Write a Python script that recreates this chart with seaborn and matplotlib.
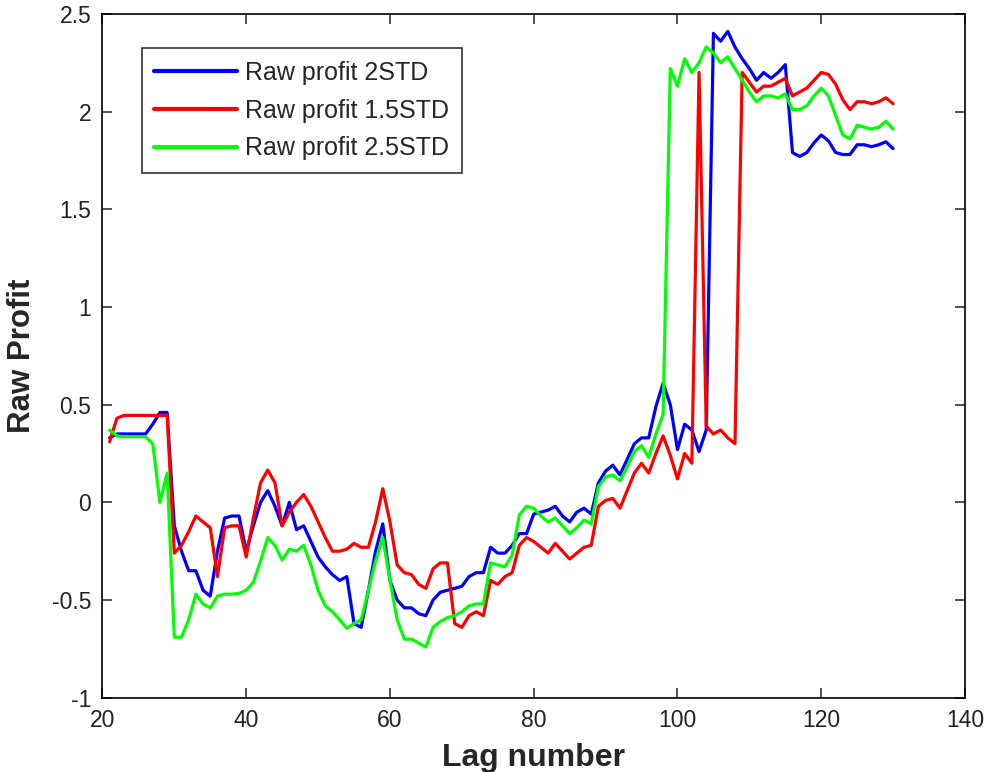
import matplotlib
matplotlib.use("Agg")
import matplotlib.pyplot as plt
import numpy as np
import pandas as pd
import seaborn as sns

# Lag values and profit series for three band widths
lags = list(range(21, 131))

profit_2std = [
    0.33, 0.35, 0.35, 0.35, 0.35, 0.35, 0.40, 0.46, 0.46, -0.12,   # 21-30
    -0.25, -0.35, -0.35, -0.45, -0.48, -0.25, -0.08, -0.07, -0.07, -0.25,  # 31-40
    -0.12, 0.00, 0.06, -0.02, -0.12, 0.00, -0.14, -0.12, -0.20, -0.28,  # 41-50
    -0.33, -0.37, -0.40, -0.38, -0.62, -0.64, -0.45, -0.25, -0.11, -0.40,  # 51-60
    -0.50, -0.54, -0.54, -0.57, -0.58, -0.50, -0.46, -0.45, -0.44, -0.43,  # 61-70
    -0.38, -0.36, -0.36, -0.23, -0.26, -0.26, -0.22, -0.16, -0.16, -0.06,  # 71-80
    -0.05, -0.04, -0.02, -0.07, -0.10, -0.05, -0.03, -0.06, 0.10, 0.16,  # 81-90
    0.19, 0.14, 0.22, 0.30, 0.33, 0.33, 0.49, 0.61, 0.50, 0.27,  # 91-100
    0.40, 0.37, 0.26, 0.37, 2.40, 2.36, 2.41, 2.33, 2.27, 2.22,  # 101-110
    2.16, 2.20, 2.17, 2.20, 2.24, 1.79, 1.77, 1.79, 1.84, 1.88,  # 111-120
    1.85, 1.79, 1.78, 1.78, 1.83, 1.83, 1.82, 1.83, 1.845, 1.81,  # 121-130
]

profit_15std = [
    0.31, 0.43, 0.445, 0.445, 0.445, 0.445, 0.445, 0.445, 0.445, -0.26,  # 21-30
    -0.22, -0.15, -0.07, -0.10, -0.13, -0.38, -0.13, -0.12, -0.12, -0.28,  # 31-40
    -0.08, 0.10, 0.165, 0.10, -0.12, -0.05, 0.00, 0.04, -0.02, -0.10,  # 41-50
    -0.18, -0.25, -0.25, -0.24, -0.21, -0.23, -0.23, -0.10, 0.07, -0.10,  # 51-60
    -0.32, -0.36, -0.37, -0.42, -0.44, -0.34, -0.31, -0.31, -0.62, -0.64,  # 61-70
    -0.58, -0.56, -0.58, -0.40, -0.42, -0.38, -0.36, -0.22, -0.18, -0.20,  # 71-80
    -0.23, -0.26, -0.21, -0.25, -0.29, -0.26, -0.23, -0.22, -0.02, 0.01,  # 81-90
    0.02, -0.03, 0.06, 0.15, 0.20, 0.15, 0.25, 0.34, 0.24, 0.12,  # 91-100
    0.25, 0.20, 2.20, 0.39, 0.35, 0.37, 0.33, 0.30, 2.20, 2.15,  # 101-110
    2.10, 2.13, 2.13, 2.15, 2.17, 2.08, 2.10, 2.12, 2.16, 2.20,  # 111-120
    2.19, 2.14, 2.06, 2.01, 2.05, 2.05, 2.04, 2.05, 2.07, 2.04,  # 121-130
]

profit_25std = [
    0.37, 0.34, 0.336, 0.336, 0.336, 0.336, 0.30, 0.00, 0.15, -0.69,  # 21-30
    -0.69, -0.60, -0.47, -0.52, -0.54, -0.48, -0.47, -0.47, -0.466, -0.45,  # 31-40
    -0.41, -0.30, -0.18, -0.22, -0.295, -0.24, -0.25, -0.22, -0.32, -0.45,  # 41-50
    -0.53, -0.56, -0.60, -0.645, -0.62, -0.60, -0.45, -0.30, -0.18, -0.40,  # 51-60
    -0.60, -0.70, -0.70, -0.72, -0.74, -0.64, -0.61, -0.59, -0.58, -0.56,  # 61-70
    -0.53, -0.52, -0.52, -0.31, -0.32, -0.33, -0.27, -0.065, -0.02, -0.03,  # 71-80
    -0.07, -0.10, -0.08, -0.12, -0.16, -0.13, -0.09, -0.11, 0.08, 0.13,  # 81-90
    0.14, 0.11, 0.18, 0.26, 0.29, 0.23, 0.35, 0.45, 2.22, 2.13,  # 91-100
    2.27, 2.20, 2.25, 2.33, 2.30, 2.25, 2.28, 2.22, 2.16, 2.10,  # 101-110
    2.05, 2.08, 2.08, 2.07, 2.09, 2.01, 2.01, 2.03, 2.08, 2.12,  # 111-120
    2.08, 1.98, 1.88, 1.86, 1.93, 1.92, 1.91, 1.92, 1.95, 1.91,  # 121-130
]

series_names = ["Raw profit 2STD", "Raw profit 1.5STD", "Raw profit 2.5STD"]
series_colors = ["#0000ff", "#ff0000", "#00ff00"]

x_ticks = [20, 40, 60, 80, 100, 120, 140]
y_ticks = [-1, -0.5, 0, 0.5, 1, 1.5, 2, 2.5]
y_tick_labels = ["-1", "-0.5", "0", "0.5", "1", "1.5", "2", "2.5"]

df = pd.concat([
    pd.DataFrame({"lag": lags, "profit": vals, "series": name})
    for name, vals in zip(series_names, [profit_2std, profit_15std, profit_25std])
], ignore_index=True)

sns.set_style("white")
plt.rcParams["font.family"] = ["Liberation Sans", "DejaVu Sans"]
plt.rcParams["axes.unicode_minus"] = False

fig = plt.figure(figsize=(9.85, 7.72), dpi=100)
ax = fig.add_axes([0.104, 0.0962, 0.8757, 0.8859])

sns.lineplot(data=df, x="lag", y="profit", hue="series", hue_order=series_names,
             palette=series_colors, linewidth=2.3, ax=ax, legend=True)

ax.set_xlim(20, 140)
ax.set_ylim(-1, 2.5)
ax.set_xticks(x_ticks)
ax.set_yticks(y_ticks)
ax.set_yticklabels(y_tick_labels)

for side in ["left", "right", "top", "bottom"]:
    ax.spines[side].set_visible(True)
    ax.spines[side].set_color("black")
    ax.spines[side].set_linewidth(1.2)

ax.tick_params(axis="both", which="major", direction="in", length=7, width=1.1,
               colors="#222222", labelsize=16.5, top=True, right=True,
               bottom=True, left=True)
ax.tick_params(axis="x", pad=8)
ax.tick_params(axis="y", pad=8)

ax.set_xlabel("Lag number", fontsize=23, fontweight="bold", labelpad=8)
ax.set_ylabel("Raw Profit", fontsize=22.5, fontweight="bold", labelpad=11)

leg = ax.legend(loc="upper left", bbox_to_anchor=(0.0455, 0.9496), borderaxespad=0,
                fontsize=18, frameon=True, fancybox=False, handlelength=3.3,
                handletextpad=0.35, labelspacing=0.55, borderpad=0.5)
leg.get_frame().set_edgecolor("black")
leg.get_frame().set_linewidth(1.2)
for line in leg.get_lines():
    line.set_linewidth(3)

fig.savefig("out.png", dpi=100)
